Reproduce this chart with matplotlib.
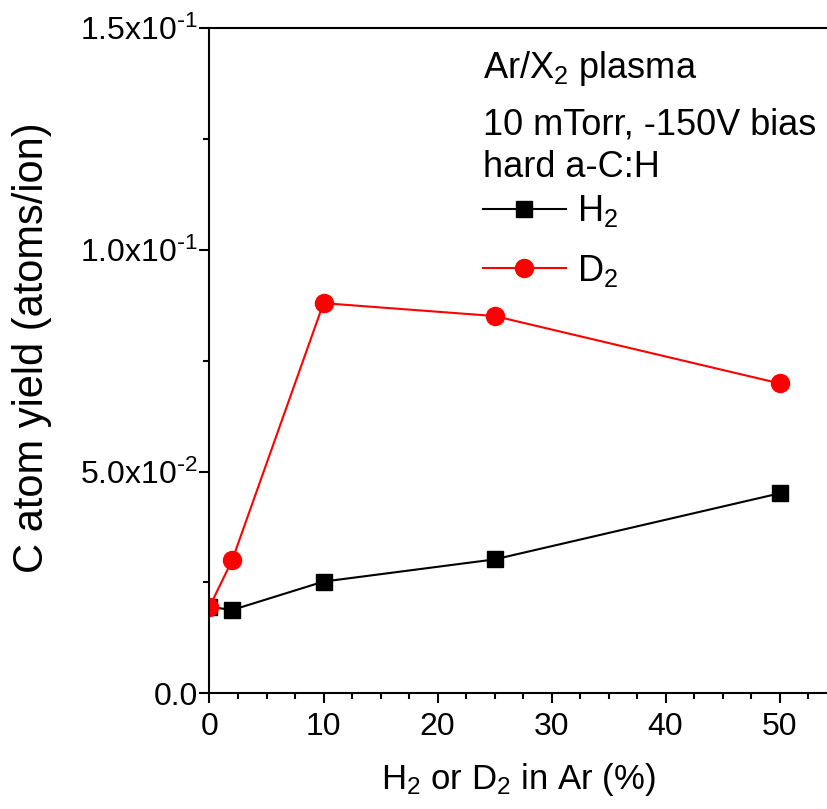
import matplotlib
matplotlib.use("Agg")
import matplotlib.pyplot as plt
from matplotlib.ticker import MultipleLocator, FixedLocator

plt.rcParams['font.family'] = ['Liberation Sans', 'DejaVu Sans']
plt.rcParams['mathtext.default'] = 'regular'

# data
x_pct = [0, 2, 10, 25, 50]
y_h2 = [0.0195, 0.0188, 0.0252, 0.0302, 0.0451]
y_d2 = [0.0195, 0.0301, 0.0880, 0.0851, 0.0699]

yticks = [0.0, 0.05, 0.10, 0.15]
ytick_labels = ['0.0', r'5.0x10$^{\text{-}2}$', r'1.0x10$^{\text{-}1}$', r'1.5x10$^{\text{-}1}$']
xticks = [0, 10, 20, 30, 40, 50]

fig = plt.figure(figsize=(8.28, 8.09), dpi=100)
ax = fig.add_axes([209.5 / 828, 1 - 693.3 / 809, 1 - 209.5 / 828, (693.3 - 28.3) / 809])

ax.plot(x_pct, y_h2, color='black', lw=1.5, marker='s', ms=12, label='H$_2$')
ax.plot(x_pct, y_d2, color='red', lw=1.5, marker='o', ms=13, label='D$_2$')

ax.set_xlim(0, 54.25)
ax.set_ylim(0, 0.15)
ax.set_xticks(xticks)
ax.xaxis.set_minor_locator(MultipleLocator(2.5))
ax.yaxis.set_major_locator(FixedLocator(yticks))
ax.set_yticklabels(ytick_labels)
ax.yaxis.set_minor_locator(MultipleLocator(0.025))

for s in ['left', 'top', 'bottom']:
    ax.spines[s].set_linewidth(1.5)
ax.spines['right'].set_visible(False)

ax.tick_params(which='both', direction='out', width=1.5, labelsize=23)
ax.tick_params(which='major', length=7.5)
ax.tick_params(which='minor', length=4.5)
ax.tick_params(axis='y', pad=1)
ax.tick_params(axis='x', pad=6)

ax.set_xlabel('H$_2$ or D$_2$ in Ar (%)', fontsize=25, labelpad=14)
ax.set_ylabel('C atom yield (atoms/ion)', fontsize=30, va='center')
ax.yaxis.set_label_coords(-0.287, 0.519)

ax.text(0.442, 0.940, 'Ar/X$_2$ plasma', transform=ax.transAxes, fontsize=26, va='center')
ax.text(0.442, 0.855, '10 mTorr, -150V bias', transform=ax.transAxes, fontsize=26, va='center')
ax.text(0.442, 0.790, 'hard a-C:H', transform=ax.transAxes, fontsize=26, va='center')

ax.legend(loc='center left', bbox_to_anchor=(0.442, 0.68), frameon=False, fontsize=26,
          handlelength=2.3, handletextpad=0.3, borderpad=0, borderaxespad=0,
          labelspacing=0.65)

fig.savefig('out.png', dpi=100)
